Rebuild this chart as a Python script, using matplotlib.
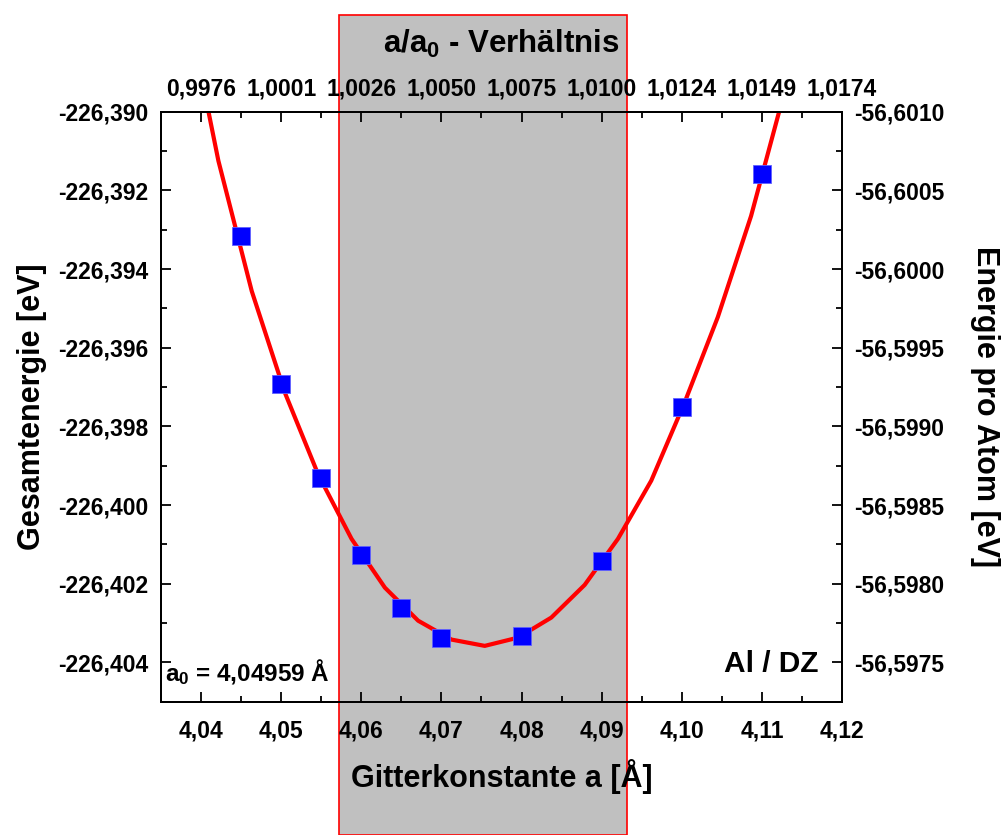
import numpy as np
import matplotlib
matplotlib.use("Agg")
import matplotlib.pyplot as plt
from matplotlib.patches import Rectangle
from matplotlib.ticker import MultipleLocator, FuncFormatter
from matplotlib.transforms import blended_transform_factory

plt.rcParams['font.family'] = ['Liberation Sans', 'DejaVu Sans']
plt.rcParams['font.weight'] = 'bold'
plt.rcParams['axes.labelweight'] = 'bold'
plt.rcParams['mathtext.fontset'] = 'custom'
plt.rcParams['mathtext.rm'] = 'Liberation Sans:bold'
plt.rcParams['mathtext.bf'] = 'Liberation Sans:bold'
plt.rcParams['mathtext.it'] = 'Liberation Sans:bold'

# Al / DZ total energy vs. lattice constant
a0 = 4.04959
gitter = [4.045, 4.05, 4.055, 4.06, 4.065, 4.07, 4.08, 4.09, 4.10, 4.11]
energie = [-226.39316, -226.39693, -226.39931, -226.40127, -226.40261,
           -226.40339, -226.40333, -226.40143, -226.39751, -226.39158]

# fit curve as sampled
fit_x = [4.03802, 4.04217, 4.04633, 4.05048, 4.05464, 4.05879, 4.06295,
         4.06710, 4.07126, 4.07541, 4.07957, 4.08372, 4.08788, 4.09203,
         4.09619, 4.10034, 4.10450, 4.10865, 4.11281]
fit_y = [-226.38706, -226.39125, -226.39456, -226.39715, -226.39923,
         -226.40086, -226.40210, -226.40294, -226.40342, -226.40358,
         -226.40337, -226.40286, -226.40203, -226.40086, -226.39938,
         -226.39740, -226.39522, -226.39265, -226.38950]

# shaded range of a
band = (4.0572, 4.0932)

fig = plt.figure(figsize=(10.06, 8.35), dpi=100)
ax = fig.add_axes([0.160, 0.1596, 0.677, 0.7066])
ax.patch.set_visible(False)

ax.plot(fit_x, fit_y, color='#ff0000', lw=3, zorder=2)
ax.plot(gitter, energie, 's', color='#0000ff', mec='#6060ff', mew=0.6, ms=12.5, zorder=3)

ax.set_xlim(4.035, 4.12)
ax.set_ylim(-226.405, -226.390)

comma = lambda fmt: FuncFormatter(lambda v, p: (fmt % v).replace('.', ','))

ax.xaxis.set_major_locator(MultipleLocator(0.01))
ax.xaxis.set_minor_locator(MultipleLocator(0.005))
ax.xaxis.set_major_formatter(comma('%.2f'))
ax.yaxis.set_major_locator(MultipleLocator(0.002))
ax.yaxis.set_minor_locator(MultipleLocator(0.001))
ax.yaxis.set_major_formatter(comma('%.3f'))

# top axis: ratio a/a0
axt = ax.twiny()
axt.set_xlim(ax.get_xlim())
axt.xaxis.set_major_locator(MultipleLocator(0.01))
axt.xaxis.set_minor_locator(MultipleLocator(0.005))
axt.xaxis.set_major_formatter(FuncFormatter(lambda v, p: ('%.4f' % (v / a0)).replace('.', ',')))

# right axis: energy per atom
axr = ax.twinx()
axr.set_ylim(-56.59725, -56.6010)
axr.yaxis.set_major_locator(MultipleLocator(0.0005))
axr.yaxis.set_minor_locator(MultipleLocator(0.00025))
axr.yaxis.set_major_formatter(comma('%.4f'))

for a in (ax, axt, axr):
    a.tick_params(which='major', direction='in', length=7, width=1.3, labelsize=16.5)
    a.tick_params(which='minor', direction='in', length=4, width=1.3)
    for s in a.spines.values():
        s.set_linewidth(1.4)
ax.tick_params(top=False, right=False)
axt.tick_params(axis='x', pad=8)
ax.tick_params(axis='x', pad=13)
ax.tick_params(axis='y', pad=9)
axr.tick_params(axis='y', pad=9)

ax.set_xlabel('Gitterkonstante a [Å]', fontsize=22, labelpad=12)
ax.set_ylabel('Gesamtenergie [eV]', fontsize=22, labelpad=8)
axt.set_xlabel(r'$\mathbf{a/a_0}$ - Verhältnis', fontsize=22.5, labelpad=18)
axr.set_ylabel('Energie pro Atom [eV]', fontsize=22, rotation=270, labelpad=40)

ax.text(0.006, 0.035, r'$\mathbf{a_0}$ = 4,04959 Å', transform=ax.transAxes,
        fontsize=17.5, ha='left', va='baseline')
ax.text(0.965, 0.051, 'Al / DZ', transform=ax.transAxes,
        fontsize=21.5, ha='right', va='baseline')

tr = blended_transform_factory(ax.transData, fig.transFigure)
fig.patches.append(Rectangle((band[0], 0), band[1] - band[0], 1 - 15 / 835,
                             transform=tr, facecolor='#c0c0c0', edgecolor='#ff0000',
                             lw=1.2, zorder=-1))

fig.savefig('out.png', dpi=100)
